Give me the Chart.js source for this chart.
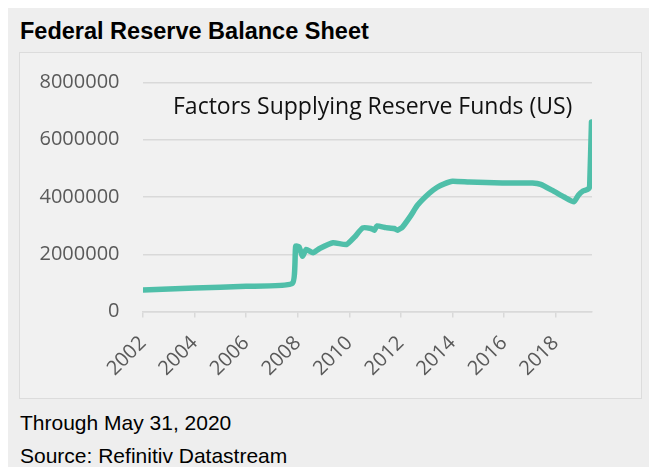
<!DOCTYPE html>
<html>
<head>
<meta charset="utf-8">
<script src="https://cdn.jsdelivr.net/npm/chart.js@4"></script>
<style>
  html, body { margin: 0; padding: 0; background: #ffffff; }
  #page { position: absolute; left: 8px; top: 8px; width: 641px; height: 459px; background: #eeeeee; }
  #title { position: absolute; left: 20px; top: 20px; font: bold 23.5px "Liberation Sans", Arial, sans-serif; line-height: 23.5px; color: #000; white-space: nowrap; }
  #box { position: absolute; left: 19px; top: 52px; width: 621px; height: 345px; border: 1.5px solid #dcdcdc; background: #f1f1f1; }
  #chart { position: absolute; left: 0; top: -6.5px; }
  .foot { position: absolute; left: 20px; font: 21px "Liberation Sans", Arial, sans-serif; line-height: 21px; color: #000; white-space: nowrap; }
</style>
</head>
<body>
<div id="page"></div>
<div id="title">Federal Reserve Balance Sheet</div>
<div id="box"><canvas id="chart" width="621" height="351"></canvas></div>
<div class="foot" style="top:412px">Through May 31, 2020</div>
<div class="foot" style="top:445px">Source: Refinitiv Datastream</div>
<script>
const seriesName = "Factors Supplying Reserve Funds (US)";
const years = [2002.0, 2004.0, 2006.0, 2007.79, 2007.92, 2008.05, 2008.18, 2008.33, 2008.59, 2008.85,
  2009.37, 2009.89, 2010.2, 2010.52, 2010.84, 2010.97, 2011.07, 2011.42, 2011.74, 2011.87,
  2012.06, 2012.39, 2012.64, 2013.1, 2013.41, 2013.68, 2014.0, 2014.65, 2015.3, 2015.93,
  2016.58, 2017.1, 2017.42, 2017.87, 2018.33, 2018.71, 2018.88, 2019.06, 2019.23, 2019.29,
  2019.32, 2019.39];
const values = [750000, 820000, 880000, 980000, 2280000, 2260000, 1930000, 2170000, 2050000, 2200000,
  2400000, 2340000, 2600000, 2920000, 2900000, 2840000, 2990000, 2930000, 2900000, 2840000,
  2950000, 3360000, 3710000, 4130000, 4340000, 4460000, 4550000, 4520000, 4510000, 4490000,
  4490000, 4490000, 4440000, 4230000, 4000000, 3830000, 4060000, 4210000, 4260000, 4300000,
  4400000, 6620000];
const yTicks = [0, 2000000, 4000000, 6000000, 8000000];
const xTicks = [2002, 2004, 2006, 2008, 2010, 2012, 2014, 2016, 2018];

const annotation = {
  id: 'annotation',
  afterDraw(chart) {
    const ctx = chart.ctx;
    ctx.save();
    ctx.font = '23px "Open Sans"';
    ctx.fillStyle = '#111111';
    ctx.textBaseline = 'alphabetic';
    ctx.textAlign = 'left';
    ctx.fillText(seriesName, chart.chartArea.left + 30, chart.chartArea.top + 31.5);
    ctx.restore();
  }
};

new Chart(document.getElementById('chart'), {
  type: 'line',
  data: {
    datasets: [{
      label: seriesName,
      data: years.map((x, i) => ({ x: x, y: values[i] })),
      borderColor: '#4fbfa9',
      borderWidth: 5.5,
      pointRadius: 0,
      tension: 0.15,
      borderCapStyle: 'round',
      borderJoinStyle: 'round',
      fill: false
    }]
  },
  options: {
    responsive: false,
    animation: false,
    layout: { padding: { top: 22.5, right: 49, left: 0, bottom: 0 } },
    plugins: { legend: { display: false }, tooltip: { enabled: false } },
    scales: {
      x: {
        type: 'linear',
        min: 2002,
        max: 2019.41,
        afterFit(s) { s.height = 86.5; },
        afterBuildTicks(s) { s.ticks = xTicks.map(v => ({ value: v })); },
        border: { display: true, color: '#d9d9d9', width: 1.5 },
        grid: { drawOnChartArea: false, drawTicks: true, tickLength: 6, color: '#d9d9d9', lineWidth: 1.5 },
        ticks: {
          minRotation: 45, maxRotation: 45, padding: 14,
          color: '#595959', font: { family: '"Open Sans"', size: 20 },
          callback: v => String(v)
        }
      },
      y: {
        min: 0,
        max: 8000000,
        afterFit(s) { s.width = 123; },
        afterBuildTicks(s) { s.ticks = yTicks.map(v => ({ value: v })); },
        border: { display: false },
        grid: { drawTicks: false, color: '#d9d9d9', lineWidth: 1.5 },
        ticks: {
          padding: 23.5,
          color: '#595959', font: { family: '"Open Sans"', size: 20 },
          callback: v => String(v)
        }
      }
    }
  },
  plugins: [annotation]
});
</script>
</body>
</html>
